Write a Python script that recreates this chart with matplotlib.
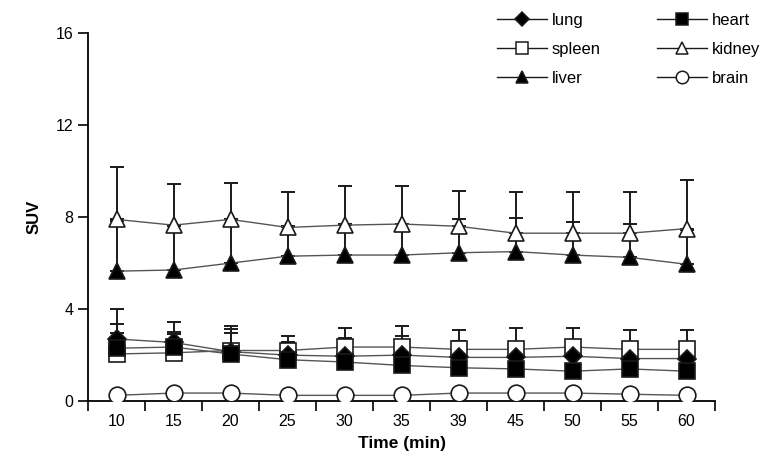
import numpy as np
import matplotlib
matplotlib.use('Agg')
from matplotlib import pyplot as plt
from matplotlib.lines import Line2D

plt.rcParams['font.family'] = ['Liberation Sans', 'DejaVu Sans']
plt.rcParams['font.size'] = 11

times = ['10', '15', '20', '25', '30', '35', '39', '45', '50', '55', '60']

lung = [2.7, 2.55, 2.15, 2.0, 1.95, 2.0, 1.9, 1.9, 1.95, 1.85, 1.85]
lung_sd = [0.67, 0.45, 0.83, 0.55, 0.8, 0.83, 0.7, 0.6, 0.6, 0.6, 0.6]
heart = [2.3, 2.35, 2.05, 1.8, 1.7, 1.55, 1.45, 1.4, 1.3, 1.4, 1.3]
heart_sd = [1.7, 1.1, 1.07, 0.75, 0.8, 0.95, 0.95, 0.9, 0.9, 0.9, 0.9]
spleen = [2.05, 2.1, 2.2, 2.2, 2.35, 2.35, 2.25, 2.25, 2.35, 2.25, 2.25]
spleen_sd = [0.93, 0.8, 1.07, 0.63, 0.85, 0.92, 0.83, 0.92, 0.82, 0.83, 0.83]
kidney = [7.9, 7.65, 7.9, 7.55, 7.65, 7.7, 7.6, 7.3, 7.3, 7.3, 7.5]
kidney_sd = [2.3, 1.8, 1.6, 1.55, 1.7, 1.65, 1.55, 1.8, 1.8, 1.8, 2.1]
liver = [5.65, 5.7, 6.0, 6.3, 6.35, 6.35, 6.45, 6.5, 6.35, 6.25, 5.95]
liver_sd = [2.2, 1.9, 1.6, 1.3, 1.35, 1.35, 1.45, 1.45, 1.45, 1.45, 1.5]
brain = [0.25, 0.35, 0.35, 0.25, 0.25, 0.25, 0.35, 0.35, 0.35, 0.3, 0.25]
brain_sd = [0.12, 0.05, 0.05, 0.05, 0.05, 0.05, 0.05, 0.05, 0.05, 0.08, 0.05]

# name, mean, sd, marker, face, size
series = [
    ('spleen', spleen, spleen_sd, 's', 'white', 11),
    ('lung', lung, lung_sd, 'D', 'black', 9),
    ('heart', heart, heart_sd, 's', 'black', 11),
    ('kidney', kidney, kidney_sd, '^', 'white', 12),
    ('liver', liver, liver_sd, '^', 'black', 12),
    ('brain', brain, brain_sd, 'o', 'white', 12),
]

fig = plt.figure(figsize=(7.68, 4.73), dpi=100)
ax = fig.add_axes([0.1146, 0.152, 0.8164, 0.778])

x = np.arange(len(times))
handles = {}
for name, mean, sd, marker, face, ms in series:
    mean = np.array(mean)
    sd = np.array(sd)
    ax.errorbar(x, mean, yerr=[np.zeros_like(sd), sd], fmt='none',
                ecolor='#1a1a1a', elinewidth=1.4, capsize=5, capthick=1.4, zorder=2)
    ax.plot(x, mean, color='#555555', lw=1.0, marker=marker, ms=ms,
            mfc=face, mec='#1a1a1a', mew=1.2, zorder=3)
    handles[name] = Line2D([], [], color='#1a1a1a', lw=1.0, marker=marker,
                           ms=ms * 0.75, mfc=face, mec='#1a1a1a', mew=1.1)

ax.set_xlim(-0.5, len(times) - 0.5)
ax.set_ylim(0, 16)
ax.set_yticks([0, 4, 8, 12, 16])
ax.set_xticks(x)
ax.set_xticklabels(times)
ax.set_xticks(np.arange(-0.5, len(times)), minor=True)
ax.tick_params(axis='x', which='major', length=0, pad=9, labelsize=11.5)
ax.tick_params(axis='x', which='minor', length=7, width=1.2, direction='out')
ax.tick_params(axis='y', length=7, width=1.2, direction='out', labelsize=11.5)
for side in ('top', 'right'):
    ax.spines[side].set_visible(False)
for side in ('left', 'bottom'):
    ax.spines[side].set_linewidth(1.3)

ax.set_ylabel('SUV', fontweight='bold', fontsize=12, labelpad=10)
ax.set_xlabel('Time (min)', fontweight='bold', fontsize=12.5, labelpad=5)

order = ['lung', 'spleen', 'liver', 'heart', 'kidney', 'brain']
fig.legend([handles[n] for n in order], order, ncol=2, frameon=False,
           loc='upper right', bbox_to_anchor=(1.01, 1.005), fontsize=12,
           handlelength=3.0, handletextpad=0.3, columnspacing=3.4,
           labelspacing=0.85)

fig.savefig('out.png', dpi=100)
